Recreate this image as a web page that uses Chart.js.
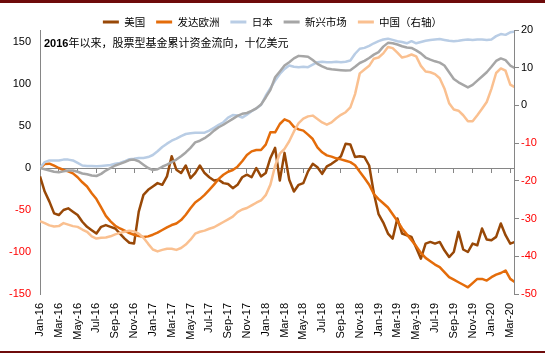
<!DOCTYPE html>
<html><head><meta charset="utf-8">
<script src="https://cdn.jsdelivr.net/npm/chart.js@4.4.1/dist/chart.umd.min.js"></script>
<style>
html,body{margin:0;padding:0;background:#fff;}
#wrap{position:relative;width:545px;height:356px;overflow:hidden;background:#fff;}
#c{position:absolute;left:0;top:0;}
.bar{position:absolute;left:0;width:545px;background:#6E0B0B;}
#title{position:absolute;left:44px;top:35px;font-size:11px;font-family:"Noto Sans CJK SC",sans-serif;color:#000;white-space:nowrap;line-height:14px;}
#title b{font-family:"Liberation Sans",Arial,sans-serif;}
</style></head>
<body><div id="wrap">
<canvas id="c" width="545" height="356"></canvas>
<div class="bar" style="top:0;height:3px"></div>
<div class="bar" style="top:351px;height:2px"></div>
<div id="title"><b>2016</b>年以来，股票型基金累计资金流向，十亿美元</div>
</div>
<script>
// Half-monthly observations, Jan 2016 - Mar 2020 (USD bn, China on right axis)
const tickLabels = ['Jan-16','Mar-16','May-16','Jul-16','Sep-16','Nov-16','Jan-17','Mar-17','May-17','Jul-17','Sep-17','Nov-17','Jan-18','Mar-18','May-18','Jul-18','Sep-18','Nov-18','Jan-19','Mar-19','May-19','Jul-19','Sep-19','Nov-19','Jan-20','Mar-20'];
const leftTicks = [-150,-100,-50,0,50,100,150];
const rightTicks = [-50,-40,-30,-20,-10,0,10,20];

const us = [
 -10,-28,-40,-54,-56,-50,-48,-52,-56,-64,-70,-74,
 -78,-70,-68,-70,-72,-78,-84,-89,-90,-52,-32,-26,
 -22,-18,-20,-10,14,-2,-6,3,-12,-6,3,-6,
 -11,-15,-14,-18,-19,-24,-20,-11,-8,-11,0,-10,
 -6,12,24,-15,18,-14,-28,-20,-18,-4,5,1,
 -7,2,5,9,14,29,28,13,14,13,3,-30,
 -55,-65,-78,-84,-60,-78,-80,-82,-95,-108,-90,-88,
 -90,-88,-98,-106,-100,-76,-97,-100,-90,-92,-72,-85,
 -86,-82,-66,-80,-90,-88];
const europe = [
 0,4.8,5.2,2.8,0,-2.4,-4,-6.4,-11,-17,-22,-30,
 -37,-47,-57,-63.5,-68.7,-72,-74.6,-77.4,-79.4,-81,-82,-81.4,
 -79.4,-77,-73.8,-70.7,-67.9,-66,-62,-55.6,-48,-41,-37,-32,
 -26,-19.8,-13,-8,-4.4,-2.4,1.6,8,15.5,19.8,21.4,21.4,
 27.8,42.5,42.5,52.4,58,55.6,49,46,44.5,39.7,34.5,24.6,
 18.7,15,13.5,11.5,10.3,8.7,7,3.2,-4.5,-12,-20,-31,
 -37,-42,-47,-55,-63,-72,-79,-86,-93,-101,-107,-111,
 -115,-118,-124,-130,-133,-136,-139,-142,-137,-132,-132,-134,
 -130,-127,-125,-122,-132,-136];
const japan = [
 0,7,9,9,9,10,10,9,6,3,2.5,2.5,
 2,2.5,3,3.5,5,6,8,10.5,11,12,12,13,
 15.5,20,25,29,32.5,35,38,40.5,41.5,42,42,42,
 44.5,48,51.5,54.5,60,63,62.5,60,63.5,67.5,71,75,
 86,95,104,112,118,122,120.5,120,120.5,120,123,126,
 126.5,126,126,126.5,126,126.5,128,136,142,143,145.5,148.5,
 151,153,154,152.5,151,150,148.5,151,148.5,150,151.5,152.5,
 153,153.5,152.5,151.5,151,151.5,152.5,153,152.5,153,153,152.5,
 153,157,159.5,158.5,161.5,162.5];
const emerging = [
 0,-1.5,-3,-4.5,-5,-4,-3,-3,-4.5,-6.5,-7.5,-9,
 -9.5,-7,-3,0,3,5,7,9.5,10,8,4,0,
 -2.5,-1.5,1.5,4,7,10,14,18.5,24,30.5,32.5,35.5,
 39.5,44.5,48.5,51.5,55,58.5,62,64.5,65.5,68,71,75.5,
 84,93,108,115,122,126,130.5,133.5,133,132.5,128.5,124,
 121,118.5,117.5,117,116.5,116,116.5,120.5,125,127.5,131,135,
 138,144.5,149,148.5,147,145,143.5,143,140,136.5,131.5,129,
 127,125.5,122,114,106,102,99,96,99,104,109,114,
 120.5,127.5,130.5,128.5,122,119];
const china = [
 -30.7,-31.2,-31.8,-32.1,-32,-31.2,-31.6,-32,-32.2,-32.9,-33.5,-34.7,
 -35.3,-35.1,-35,-34.7,-34.2,-33.8,-33.5,-33.2,-33.4,-34,-35.1,-36.7,
 -38.2,-38.7,-38.3,-38,-38,-38.3,-37.8,-36.9,-35.6,-34,-33.5,-33.2,
 -32.7,-32.3,-31.6,-30.9,-30.2,-29.5,-28.3,-27.6,-27.2,-26.5,-25.8,-25.2,
 -23.8,-21,-16,-12.8,-11.5,-9.5,-6.9,-4.7,-3.5,-2.9,-2.7,-3.6,
 -4.5,-5.1,-4.5,-3.4,-2.5,-1.8,-0.5,3,8.5,9.5,10.5,12.4,
 12.7,13.8,15.5,15.2,14,12.7,13,13.5,13,10.5,9,8.8,
 8.3,7.2,4.5,0.6,-1.1,-1.4,-2.6,-4.2,-4.2,-2.6,-0.9,0.9,
 4.4,8.6,9.8,9.2,5.5,4.8];

// month offset (from Jan-2016) of each half-monthly observation
const monthPos = us.map((_, i) => i / 2);
const tickPos = tickLabels.map((_, i) => i * 2);
const pts = arr => arr.map((v, i) => ({x: monthPos[i], y: v}));

const GRAY = '#868686';
const FONT = {family: "'Liberation Sans', Arial, sans-serif", size: 11};
const negRed = c => (c.tick && c.tick.value < 0) ? '#FF0000' : '#000000';

const legendFix = {
  id: 'legendFix',
  beforeLayout(chart) {
    const lg = chart.legend;
    if (lg && !lg._fixed) {
      const f = lg.fit;
      lg.fit = function () { f.call(this); this.height = 24.25; };
      lg._fixed = true;
    }
  }
};

const mk = (label, data, color, axis, order) => ({
  label, data: pts(data), borderColor: color, backgroundColor: color,
  yAxisID: axis, xAxisID: 'x', order, borderWidth: 2.5, pointRadius: 0, tension: 0, clip: 0
});

new Chart(document.getElementById('c'), {
  type: 'line',
  data: {
    datasets: [
      mk('美国', us, '#984807', 'y', 5),
      mk('发达欧洲', europe, '#E46C0A', 'y', 4),
      mk('日本', japan, '#B9CDE5', 'y', 3),
      mk('新兴市场', emerging, '#A6A6A6', 'y', 2),
      mk('中国（右轴）', china, '#FAC090', 'y1', 1)
    ]
  },
  options: {
    responsive: false,
    animation: false,
    events: [],
    layout: {padding: {top: 5.75, left: 0, right: 0, bottom: 0}},
    elements: {line: {borderJoinStyle: 'round', borderCapStyle: 'butt'}, point: {radius: 0}},
    plugins: {
      tooltip: {enabled: false},
      legend: {
        display: true, position: 'top',
        labels: {
          boxWidth: 16, boxHeight: 3, padding: 11, color: '#000',
          font: {family: "'Noto Sans CJK SC', sans-serif", size: 10.5},
          sort: (a, b) => a.datasetIndex - b.datasetIndex,
          generateLabels: chart => Chart.defaults.plugins.legend.labels.generateLabels(chart)
            .map(l => Object.assign(l, {lineWidth: 0, fillStyle: l.strokeStyle}))
        }
      }
    },
    scales: {
      x: {
        type: 'linear', position: 'bottom', min: 0, max: 50.4,
        grid: {display: false, drawTicks: false},
        border: {display: false},
        ticks: {
          autoSkip: false, maxRotation: 90, minRotation: 90, padding: 9,
          color: '#000', font: FONT,
          callback: v => { const k = Math.round(v / 2); return tickLabels[k] || ''; }
        },
        afterBuildTicks: s => { s.ticks = tickPos.map(v => ({value: v})); },
        afterFit: s => { s.height = 62; }
      },
      x2: {
        type: 'linear', position: {y: 0}, min: 0, max: 50.4,
        grid: {drawOnChartArea: false, drawTicks: true, tickLength: 4, color: GRAY},
        border: {display: true, color: GRAY, width: 1},
        ticks: {display: false},
        afterBuildTicks: s => { s.ticks = tickPos.map(v => ({value: v})); }
      },
      y: {
        type: 'linear', position: 'left', min: -150, max: 164.3,
        grid: {display: false, drawTicks: false},
        border: {display: true, color: GRAY, width: 1},
        ticks: {color: negRed, font: FONT, padding: 9},
        afterBuildTicks: s => { s.ticks = leftTicks.map(v => ({value: v})); },
        afterFit: s => { s.width = 40; }
      },
      y1: {
        type: 'linear', position: 'right', min: -50, max: 20,
        grid: {drawOnChartArea: false, drawTicks: true, tickLength: 5, color: GRAY},
        border: {display: true, color: GRAY, width: 1},
        ticks: {color: negRed, font: FONT, padding: 2},
        afterBuildTicks: s => { s.ticks = rightTicks.map(v => ({value: v})); },
        afterFit: s => { s.width = 31; }
      }
    }
  },
  plugins: [legendFix]
});
</script>
</body></html>
